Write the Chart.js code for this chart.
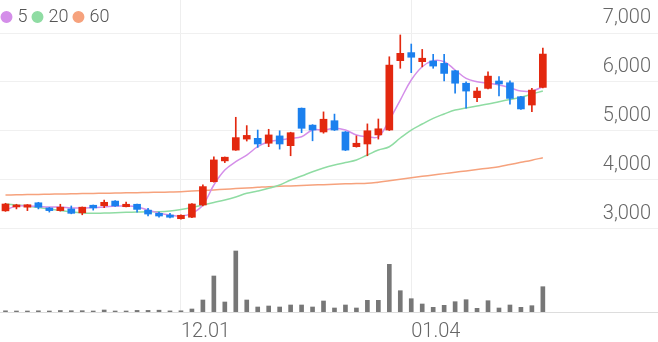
<!DOCTYPE html>
<html lang="ko">
<head>
<meta charset="UTF-8">
<title>Price chart</title>
<script src="https://cdn.jsdelivr.net/npm/chart.js@4.4.0/dist/chart.umd.min.js"></script>
<style>
    html, body { margin: 0; padding: 0; background: #fff; }
    .chart-box { width: 658px; height: 342px; position: relative; }
</style>
</head>
<body>
<div class="chart-box">
    <canvas id="chart"></canvas>
</div>
<script>
// trading days shown on the chart
const dates = [
    "11.09", "11.10", "11.13", "11.14", "11.15", "11.16", "11.17", "11.20", "11.21", "11.22",
    "11.23", "11.24", "11.27", "11.28", "11.29", "11.30", "12.01", "12.04", "12.05", "12.06",
    "12.07", "12.08", "12.11", "12.12", "12.13", "12.14", "12.15", "12.18", "12.19", "12.20",
    "12.21", "12.22", "12.26", "12.27", "12.28", "01.02", "01.03", "01.04", "01.05", "01.08",
    "01.09", "01.10", "01.11", "01.12", "01.15", "01.16", "01.17", "01.18", "01.19", "01.22"
];
const emptySlots = 10;
const xTickLabels = ["12.01", "01.04"];
const yTickValues = [3000, 4000, 5000, 6000, 7000];

const opens = [
    3370, 3450, 3445, 3535, 3430, 3375, 3410, 3330, 3485, 3475,
    3570, 3455, 3505, 3385, 3320, 3285, 3210, 3240, 3490, 3965,
    4390, 4610, 4835, 4850, 4750, 4900, 4700, 5465, 5120, 4980,
    5210, 4980, 4680, 4735, 4920, 5020, 6435, 6600, 6415, 6430,
    6380, 6230, 5975, 5680, 5870, 6020, 5985, 5700, 5530, 5890
];
const highs = [
    3525, 3505, 3500, 3545, 3440, 3505, 3470, 3450, 3490, 3590,
    3580, 3550, 3510, 3420, 3345, 3320, 3290, 3520, 3900, 4475,
    4470, 5280, 5110, 5020, 5035, 5005, 4975, 5470, 5130, 5390,
    5345, 4990, 4900, 5145, 5245, 6515, 6960, 6775, 6665, 6565,
    6565, 6240, 6005, 5885, 6205, 6110, 6025, 5710, 5870, 6690
];
const lows = [
    3360, 3410, 3375, 3410, 3345, 3365, 3310, 3290, 3385, 3435,
    3460, 3450, 3345, 3265, 3240, 3225, 3200, 3230, 3470, 3955,
    4355, 4605, 4795, 4665, 4680, 4630, 4495, 4965, 4800, 4955,
    5010, 4600, 4670, 4495, 4835, 5010, 6280, 6190, 6310, 6280,
    6020, 5770, 5465, 5600, 5860, 5715, 5550, 5440, 5395, 5880
];
const closes = [
    3510, 3490, 3495, 3445, 3375, 3445, 3320, 3445, 3430, 3545,
    3470, 3505, 3400, 3305, 3265, 3240, 3280, 3510, 3865, 4410,
    4465, 4865, 4910, 4735, 4920, 4735, 4965, 5055, 5020, 5240,
    5020, 4610, 4750, 5005, 5045, 6345, 6585, 6505, 6485, 6325,
    6175, 5975, 5815, 5815, 6120, 5960, 5665, 5450, 5835, 6570
];
const volumes = [
    12000, 10000, 10000, 12000, 10000, 15000, 13000, 13000, 10000, 20000,
    10000, 10000, 16000, 16000, 18000, 11000, 12000, 30000, 120000, 360000,
    100000, 610000, 120000, 50000, 60000, 50000, 70000, 70000, 50000, 110000,
    40000, 70000, 40000, 117000, 117000, 477000, 213000, 133000, 80000, 47000,
    67000, 103000, 123000, 37000, 113000, 40000, 70000, 47000, 63000, 253000
];
const ma5 = [
    3387, 3469, 3469, 3459, 3449, 3449, 3428, 3428, 3438, 3449,
    3469, 3469, 3449, 3387, 3326, 3285, 3265, 3320, 3490, 3898,
    4204, 4373, 4510, 4679, 4781, 4816, 4851, 4883, 5020, 5020,
    5055, 5020, 4918, 4883, 4883, 5224, 5632, 6041, 6312, 6435,
    6414, 6245, 6075, 6006, 5973, 5939, 5884, 5816, 5816, 5904
];
const ma20 = [
    3510, 3490, 3469, 3438, 3408, 3377, 3347, 3326, 3320, 3326,
    3332, 3340, 3347, 3353, 3353, 3367, 3398, 3438, 3490, 3541,
    3592, 3653, 3728, 3775, 3830, 3898, 4000, 4081, 4169, 4245,
    4306, 4357, 4408, 4510, 4612, 4679, 4857, 5020, 5143, 5259,
    5347, 5428, 5469, 5510, 5551, 5598, 5643, 5688, 5755, 5816
];
const ma60 = [
    3694, 3698, 3702, 3706, 3710, 3714, 3718, 3722, 3726, 3730,
    3734, 3738, 3742, 3746, 3750, 3755, 3761, 3773, 3785, 3798,
    3811, 3824, 3837, 3850, 3863, 3871, 3880, 3888, 3897, 3905,
    3913, 3921, 3927, 3932, 3955, 3985, 4015, 4045, 4075, 4102,
    4130, 4158, 4186, 4214, 4242, 4271, 4315, 4360, 4405, 4455
];

const UP = "#e3280f";
const DOWN = "#1b80ee";

const labels = dates.concat(Array(emptySlots).fill(""));
const candleColors = opens.map((o, i) => closes[i] >= o ? UP : DOWN);
const wicks = lows.map((l, i) => [l, highs[i]]);
const bodies = opens.map((o, i) => [o, closes[i]]);

function maLine(label, values, color) {
    return {
        type: "line",
        label: label,
        data: values,
        borderColor: color,
        backgroundColor: color,
        borderWidth: 1.5,
        pointRadius: 0,
        tension: 0.4,
        yAxisID: "y",
        order: 3
    };
}

// the legend sits on top of the plot instead of taking a row of its own
const legendOverlay = {
    id: "legendOverlay",
    beforeLayout(chart) {
        const lg = chart.legend;
        if (lg && !lg._overlay) {
            const fit = lg.fit.bind(lg);
            lg.fit = function () { fit(); this.height = 0; };
            lg._overlay = true;
        }
    },
    afterLayout(chart) {
        const lg = chart.legend;
        if (!lg) return;
        lg.left = -3.5;
        lg.top = 0;
        lg.height = 36;
        lg.bottom = 36;
    }
};

const ctx = document.getElementById("chart").getContext("2d");
new Chart(ctx, {
    type: "bar",
    plugins: [legendOverlay],
    data: {
        labels: labels,
        datasets: [
            maLine("5", ma5, "#d48ee9"),
            maLine("20", ma20, "#8fdca3"),
            maLine("60", ma60, "#f6a27d"),
            {
                label: "",
                data: wicks,
                backgroundColor: candleColors,
                barThickness: 1,
                grouped: false,
                yAxisID: "y",
                order: 2
            },
            {
                label: "",
                data: bodies,
                backgroundColor: candleColors,
                barThickness: 7,
                minBarLength: 2,
                grouped: false,
                yAxisID: "y",
                order: 1
            },
            {
                label: "",
                data: volumes,
                backgroundColor: "#777777",
                barThickness: 4,
                grouped: false,
                yAxisID: "vol",
                order: 1
            }
        ]
    },
    options: {
        responsive: true,
        maintainAspectRatio: false,
        animation: false,
        layout: { padding: 0 },
        plugins: {
            tooltip: { enabled: false },
            legend: {
                position: "top",
                align: "start",
                labels: {
                    filter: item => item.text !== "",
                    usePointStyle: true,
                    pointStyle: "circle",
                    boxWidth: 4,
                    boxHeight: 7.4,
                    padding: 8,
                    color: "#555",
                    font: { family: "Roboto", size: 18, weight: 300 }
                }
            }
        },
        scales: {
            x: {
                offset: true,
                afterFit: axis => {
                    axis.height = 30;
                    axis.paddingLeft = 0;
                    axis.paddingRight = 0;
                },
                grid: {
                    offset: false,
                    drawTicks: false,
                    color: c => (c.tick && xTickLabels.includes(labels[c.index])) ? "#eeeeee" : "rgba(0,0,0,0)"
                },
                border: { display: true, color: "#dddddd" },
                ticks: {
                    autoSkip: false,
                    maxRotation: 0,
                    align: "start",
                    padding: 8,
                    color: "#666",
                    font: { family: "Roboto", size: 20, weight: 300 },
                    callback: (v, i) => xTickLabels.includes(labels[i]) ? labels[i] : ""
                }
            },
            y: {
                position: "right",
                min: 1306,
                max: 7673.5,
                afterFit: axis => {
                    axis.width = 0;
                    axis.paddingTop = 0;
                    axis.paddingBottom = 0;
                },
                afterBuildTicks: axis => { axis.ticks = yTickValues.map(v => ({ value: v })); },
                grid: { drawTicks: false, color: "#f0f0f0" },
                border: { display: false },
                ticks: {
                    mirror: true,
                    padding: -7,
                    labelOffset: -15,
                    color: "#666",
                    font: { family: "Roboto", size: 20, weight: 300 },
                    callback: v => v.toLocaleString("en-US")
                }
            },
            vol: {
                display: false,
                min: 0,
                max: 3120000
            }
        }
    }
});
</script>
</body>
</html>
